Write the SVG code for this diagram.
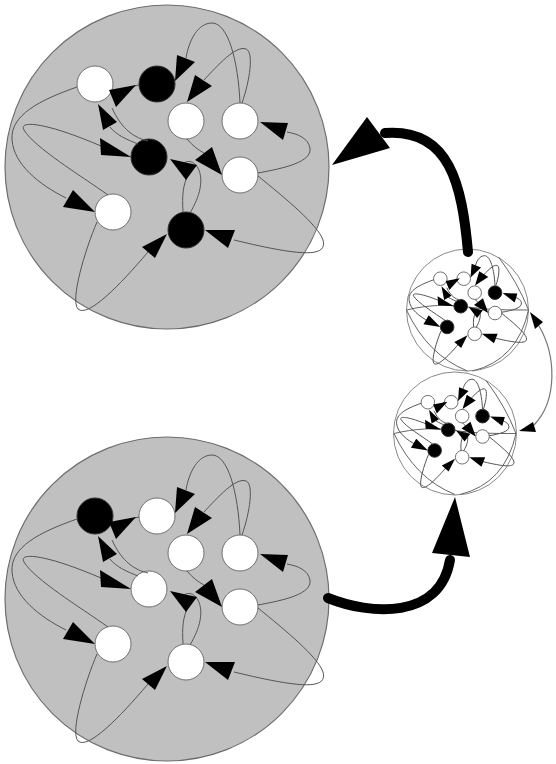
<svg xmlns="http://www.w3.org/2000/svg" xmlns:xlink="http://www.w3.org/1999/xlink" width="556" height="764" viewBox="0 0 556 764">
<defs>
<style>
.cluster{fill:#c0c0c0;stroke:#6e6e6e;stroke-width:1.2}
.mini{fill:#fff;stroke:#8a8a8a;stroke-width:1}
.nw{fill:#fff;stroke:#707070;stroke-width:1;vector-effect:non-scaling-stroke}
.nb{fill:#000;stroke:#303030;stroke-width:1;vector-effect:non-scaling-stroke}
.edge{fill:none;stroke:#555;stroke-width:1;vector-effect:non-scaling-stroke}
.chord{fill:none;stroke:#666;stroke-width:1}
.ah{fill:#000}
.big{fill:none;stroke:#000;stroke-width:10;stroke-linecap:round}
.link{fill:none;stroke:#777;stroke-width:1.2}
</style>
<g id="lineSet">
<path class="edge" d="M139,85 L134,86"/>
<path class="edge" d="M148,141 C135,138 122,130 112,108"/>
<path class="edge" d="M138,144 C128,140 116,135 110,127"/>
<path class="edge" d="M240,103 C238,60 228,23 212,23 C198,23 189,40 186,58"/>
<path class="edge" d="M242,103 C250,80 254,52 246,49 C236,45 218,65 204,80"/>
<path class="edge" d="M258,173 C285,168 312,162 310,148 C308,138 298,134 287,132"/>
<path class="edge" d="M258,176 C285,198 318,225 323,240 C328,258 300,256 234,240"/>
<path class="edge" d="M183,212 C182,195 183,185 188,175"/>
<path class="edge" d="M190,213 C200,196 204,180 198,168 C194,161 188,160 184,163"/>
<path class="edge" d="M187,139 C192,145 198,150 204,153"/>
<path class="edge" d="M108,195 C80,175 35,148 24,130 C18,120 45,122 101,146"/>
<path class="edge" d="M77,87 C40,100 10,115 12,140 C14,165 40,185 66,198"/>
<path class="edge" d="M97,222 C85,250 70,300 78,309 C88,318 120,285 148,252"/>
</g>
<g id="ahSet">
<polygon class="ah" points="109,90 136,85 116,107"/>
<polygon class="ah" points="98,104 117,122 103,130"/>
<polygon class="ah" points="175,81 177,55 195,62"/>
<polygon class="ah" points="187,102 195,75 212,86"/>
<polygon class="ah" points="260,122 288,123 283,140"/>
<polygon class="ah" points="205,230 235,230 228,248"/>
<polygon class="ah" points="170,159 197,165 186,180"/>
<polygon class="ah" points="222,175 195,160 212,147"/>
<polygon class="ah" points="131,157 100,138 101,155"/>
<polygon class="ah" points="95,212 63,207 73,190"/>
<polygon class="ah" points="167,234 142,247 155,258"/>
</g>
<g id="ahSetMini">
<polygon class="ah" points="109,90 146.8,83 118.8,113.8"/>
<polygon class="ah" points="98,104 124.6,129.2 105,140.4"/>
<polygon class="ah" points="175,81 177.8,44.6 203,54.4"/>
<polygon class="ah" points="187,102 198.2,64.2 222,79.6"/>
<polygon class="ah" points="260,122 299.2,123.4 292.2,147.2"/>
<polygon class="ah" points="205,230 247,230 237.2,255.2"/>
<polygon class="ah" points="170,159 207.8,167.4 192.4,188.4"/>
<polygon class="ah" points="222,175 184.2,154 208,135.8"/>
<polygon class="ah" points="131,157 87.6,130.4 89,154.2"/>
<polygon class="ah" points="95,212 50.2,205 64.2,181.2"/>
<polygon class="ah" points="167,234 132,252.2 150.2,267.6"/>
</g>
<g id="portChords">
<path class="chord" d="M-61,0 Q-40,45 0,61"/>
<path class="chord" d="M61,0 Q50,50 5,61"/>
<path class="chord" d="M61,0 Q50,-28 31,-53"/>
<path class="chord" d="M-61,0 C-40,-5 -20,-6 0,-3 S40,0 61,0"/>
</g>
</defs>

<g id="cluster-top">
<circle class="cluster" cx="167" cy="167" r="162"/>
<g id="t-A"><circle class="nw" cx="95" cy="84" r="18"/></g>
<g id="t-B"><circle class="nb" cx="157" cy="84" r="18"/></g>
<g id="t-C"><circle class="nw" cx="186" cy="121" r="18"/></g>
<g id="t-D"><circle class="nw" cx="240" cy="121" r="18"/></g>
<g id="t-E"><circle class="nb" cx="149" cy="157" r="18"/></g>
<g id="t-F"><circle class="nw" cx="240" cy="175" r="18"/></g>
<g id="t-G"><circle class="nw" cx="113" cy="212" r="18"/></g>
<g id="t-H"><circle class="nb" cx="186" cy="230" r="18"/></g>
<g id="t-connectors"><use xlink:href="#lineSet" href="#lineSet"/><use xlink:href="#ahSet" href="#ahSet"/></g>
</g>

<g id="cluster-bottom">
<circle class="cluster" cx="167" cy="599" r="162"/>
<g transform="translate(0,432)">
<g id="b-A"><circle class="nb" cx="95" cy="84" r="18"/></g>
<g id="b-B"><circle class="nw" cx="157" cy="84" r="18"/></g>
<g id="b-C"><circle class="nw" cx="186" cy="121" r="18"/></g>
<g id="b-D"><circle class="nw" cx="240" cy="121" r="18"/></g>
<g id="b-E"><circle class="nw" cx="149" cy="157" r="18"/></g>
<g id="b-F"><circle class="nw" cx="240" cy="175" r="18"/></g>
<g id="b-G"><circle class="nw" cx="113" cy="212" r="18"/></g>
<g id="b-H"><circle class="nw" cx="186" cy="230" r="18"/></g>
<g id="b-connectors"><use xlink:href="#lineSet" href="#lineSet"/><use xlink:href="#ahSet" href="#ahSet"/></g>
</g>
</g>

<g id="mini-top">
<circle class="mini" cx="467.5" cy="310" r="61"/>
<g id="mt-chords" transform="translate(467.5,310)"><use xlink:href="#portChords" href="#portChords"/></g>
<g transform="translate(467.5,310) scale(0.377) translate(-167,-167)">
<g id="mt-A"><circle class="nw" cx="95" cy="84" r="18"/></g>
<g id="mt-B"><circle class="nw" cx="157" cy="84" r="18"/></g>
<g id="mt-C"><circle class="nw" cx="186" cy="121" r="18"/></g>
<g id="mt-D"><circle class="nb" cx="240" cy="121" r="18"/></g>
<g id="mt-E"><circle class="nb" cx="149" cy="157" r="18"/></g>
<g id="mt-F"><circle class="nw" cx="240" cy="175" r="18"/></g>
<g id="mt-G"><circle class="nb" cx="113" cy="212" r="18"/></g>
<g id="mt-H"><circle class="nw" cx="186" cy="230" r="18"/></g>
<g id="mt-connectors"><use xlink:href="#lineSet" href="#lineSet"/><use xlink:href="#ahSetMini" href="#ahSetMini"/></g>
</g>
</g>

<g id="mini-bottom">
<circle class="mini" cx="455" cy="433.5" r="61.5"/>
<g id="mb-chords" transform="translate(455,433.5)"><use xlink:href="#portChords" href="#portChords"/></g>
<g transform="translate(455,433.5) scale(0.377) translate(-167,-167)">
<g id="mb-A"><circle class="nw" cx="95" cy="84" r="18"/></g>
<g id="mb-B"><circle class="nw" cx="157" cy="84" r="18"/></g>
<g id="mb-C"><circle class="nw" cx="186" cy="121" r="18"/></g>
<g id="mb-D"><circle class="nb" cx="240" cy="121" r="18"/></g>
<g id="mb-E"><circle class="nb" cx="149" cy="157" r="18"/></g>
<g id="mb-F"><circle class="nw" cx="240" cy="175" r="18"/></g>
<g id="mb-G"><circle class="nb" cx="113" cy="212" r="18"/></g>
<g id="mb-H"><circle class="nw" cx="186" cy="230" r="18"/></g>
<g id="mb-connectors"><use xlink:href="#lineSet" href="#lineSet"/><use xlink:href="#ahSetMini" href="#ahSetMini"/></g>
</g>
</g>

<g id="connectors">
<path class="big" d="M468,252 C462,185 450,128 385,133"/>
<polygon class="ah" points="332,165 367,117 390,148"/>
<path class="big" d="M328,598 C370,615 440,620 450,560"/>
<polygon class="ah" points="455,497 432,553 470,557"/>
<path class="link" d="M539,326 C556,355 558,400 534,425"/>
<polygon class="ah" points="530,312 543,322 535,329"/>
<polygon class="ah" points="519,431 533,422 536,432"/>
</g>
</svg>
